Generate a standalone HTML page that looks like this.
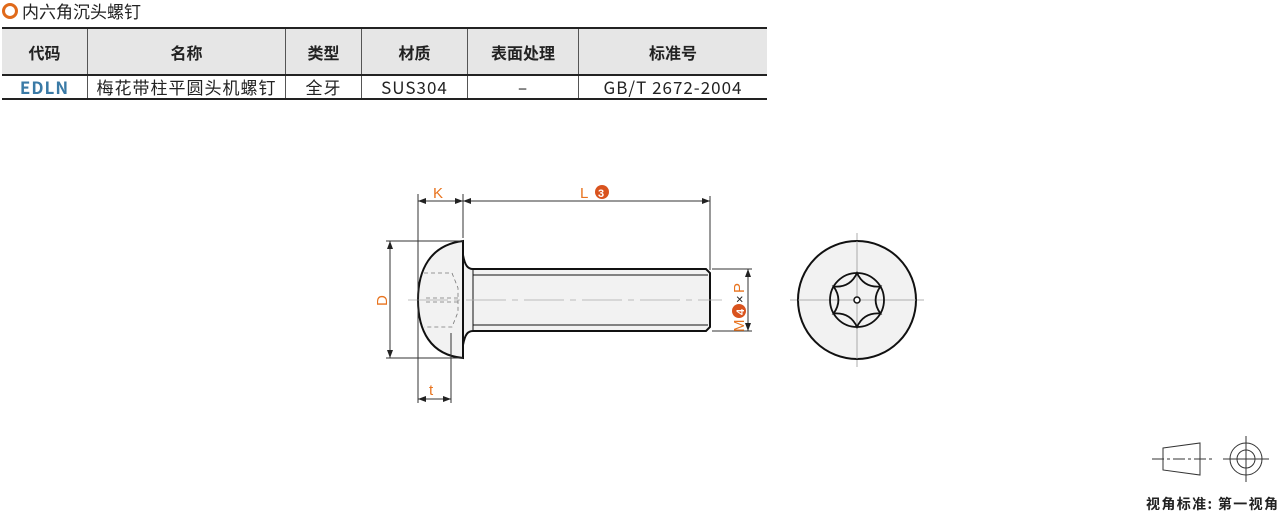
<!DOCTYPE html>
<html><head><meta charset="utf-8"><style>
body{margin:0;width:1280px;height:513px;background:#fff;position:relative;font-family:"Noto Sans CJK SC","Liberation Sans",sans-serif;overflow:hidden}
.t{position:absolute;left:2px;top:-1px;font-size:17px;color:#222;line-height:24px}
.t b{display:inline-block;width:10px;height:10px;border:3px solid #e06a1b;border-radius:50%;vertical-align:-1px;margin-right:4px;box-sizing:content-box}
table{position:absolute;left:2px;top:27px;border-collapse:collapse;font-size:16px;color:#222}
td{border-left:1px solid #555;text-align:center;padding:0;line-height:18px}
td:first-child{border-left:none}
tr.h td{background:#e6e6e6;height:45px;font-weight:bold;border-top:2px solid #222;border-bottom:2px solid #222}
tr.r td{height:22px;border-bottom:2px solid #222;font-size:17px;letter-spacing:1px}
</style></head><body>
<div class="t"><b></b>内六角沉头螺钉</div>
<table>
<tr class="h"><td style="width:85px">代码</td><td style="width:197px">名称</td><td style="width:75px">类型</td><td style="width:105px">材质</td><td style="width:110px">表面处理</td><td style="width:188px">标准号</td></tr>
<tr class="r"><td style="color:#3a7aa6;font-weight:bold">EDLN</td><td>梅花带柱平圆头机螺钉</td><td>全牙</td><td>SUS304</td><td>–</td><td>GB/T 2672-2004</td></tr>
</table>
<svg width="1280" height="513" style="position:absolute;left:0;top:0" font-family="Noto Sans CJK SC,Liberation Sans,sans-serif">
<defs><marker id="a" markerWidth="8" markerHeight="6" refX="8" refY="3" orient="auto-start-reverse" markerUnits="userSpaceOnUse"><path d="M0,0L8,3L0,6z" fill="#222"/></marker></defs>
<g fill="#f2f2f2" stroke="#111" stroke-width="2">
<path d="M463,241 C430,245 418,270 418,300 C418,330 430,355 463,358 Z"/>
<path d="M463,255 C465,266 468,269 473,269 L706,269 L710,273 L710,327 L706,331 L473,331 C468,331 465,334 463,345 Z"/>
</g>
<g stroke="#111" stroke-width="1" fill="none">
<line x1="473" y1="275" x2="708" y2="275"/><line x1="473" y1="325" x2="708" y2="325"/>
<line x1="473" y1="269" x2="473" y2="331"/>
</g>
<g stroke="#777" stroke-width="0.8" fill="none" stroke-dasharray="4,3">
<path d="M424,273 H452 L458,288 V312 L452,327 H424"/>
<line x1="426" y1="298" x2="458" y2="298"/><line x1="426" y1="302" x2="458" y2="302"/>
</g>
<line x1="408" y1="300" x2="722" y2="300" stroke="#aaa" stroke-width="0.8" stroke-dasharray="40,6,6,6"/>
<g stroke="#333" stroke-width="1" fill="none">
<line x1="418" y1="194" x2="418" y2="403"/>
<line x1="463" y1="194" x2="463" y2="238"/>
<line x1="710" y1="196" x2="710" y2="270"/>
<line x1="451" y1="333" x2="451" y2="403"/>
<line x1="386" y1="241" x2="463" y2="241"/>
<line x1="386" y1="358" x2="463" y2="358"/>
<line x1="712" y1="269" x2="752" y2="269"/>
<line x1="712" y1="331" x2="752" y2="331"/>
<line x1="418" y1="201" x2="463" y2="201" marker-start="url(#a)" marker-end="url(#a)"/>
<line x1="463" y1="201" x2="710" y2="201" marker-start="url(#a)" marker-end="url(#a)"/>
<line x1="390" y1="241" x2="390" y2="358" marker-start="url(#a)" marker-end="url(#a)"/>
<line x1="418" y1="399" x2="451" y2="399" marker-start="url(#a)" marker-end="url(#a)"/>
<line x1="748" y1="269" x2="748" y2="331" marker-start="url(#a)" marker-end="url(#a)"/>
</g>
<g fill="#e8731e" font-size="15" font-family="Liberation Sans,sans-serif">
<text x="433" y="198">K</text>
<text x="580" y="198">L</text>
<circle cx="602" cy="192" r="7" fill="#d9531e"/><text x="598" y="197" fill="#fff" font-size="11" font-weight="bold">3</text>
<text x="429" y="395">t</text>
<text transform="translate(387,306) rotate(-90)">D</text>
<g transform="translate(744,332) rotate(-90)"><text x="0" y="0">M</text><circle cx="21" cy="-5" r="7" fill="#d9531e"/><text x="17" y="0" fill="#fff" font-size="11" font-weight="bold">4</text><text x="29" y="0" fill="#222" font-size="13">×</text><text x="39" y="0">P</text></g>
</g>
<g>
<line x1="857" y1="233" x2="857" y2="367" stroke="#999" stroke-width="0.8"/>
<line x1="790" y1="300" x2="924" y2="300" stroke="#999" stroke-width="0.8"/>
<circle cx="857" cy="300" r="59" fill="#f2f2f2" stroke="#111" stroke-width="2"/>
<line x1="857" y1="241" x2="857" y2="359" stroke="#999" stroke-width="0.8"/>
<line x1="798" y1="300" x2="916" y2="300" stroke="#999" stroke-width="0.8"/>
<circle cx="857" cy="300" r="27" fill="none" stroke="#111" stroke-width="1.8"/>
<path d="M857,273 Q863.9,288 880.4,286.5 Q870.8,300 880.4,313.5 Q863.9,312 857,327 Q850.1,312 833.6,313.5 Q843.2,300 833.6,286.5 Q850.1,288 857,273Z" fill="none" stroke="#111" stroke-width="1.8"/>
<circle cx="857" cy="300" r="3" fill="#fff" stroke="#111" stroke-width="1.5"/>
</g>
<g stroke="#333" stroke-width="1" fill="none">
<path d="M1163,448 L1200,443 L1200,475 L1163,470 Z"/>
<line x1="1152" y1="459" x2="1212" y2="459" stroke-dasharray="12,3,3,3"/>
<circle cx="1246" cy="459" r="16"/><circle cx="1246" cy="459" r="9"/>
<line x1="1246" y1="436" x2="1246" y2="482"/><line x1="1223" y1="459" x2="1269" y2="459"/>
</g>
<text x="1146" y="509" font-size="14" font-weight="bold" fill="#222" textLength="132">视角标准: 第一视角</text>
</svg>
</body></html>
